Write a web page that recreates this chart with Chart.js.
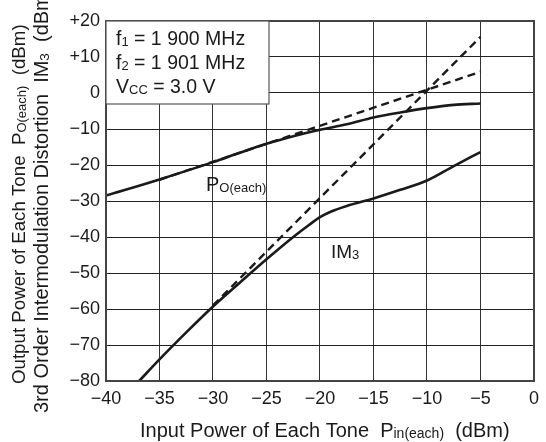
<!DOCTYPE html>
<html>
<head>
<meta charset="utf-8">
<script src="https://cdn.jsdelivr.net/npm/chart.js@4/dist/chart.umd.min.js"></script>
<style>
  html, body { margin: 0; padding: 0; background: #fff; }
  #wrap { width: 546px; height: 442px; }
</style>
</head>
<body>
<div id="wrap"><canvas id="im3-chart"></canvas></div>
<script>
// Pout (each tone) measured curve
const pinPout = [-40, -35, -30, -27.5, -25, -22.5, -20, -17.5, -15, -12.5, -10, -7.5, -5];
const poutVals = [-28.5, -24.0, -19.2, -16.6, -14.1, -12.0, -10.2, -8.7, -6.8, -5.4, -4.2, -3.3, -2.9];
// Pout linear extrapolation (dashed)
const pinPoutExt = [-35, -5];
const poutExtVals = [-24.1, 5.9];
// IM3 measured curve
const pinIm3 = [-36.9, -35, -32.5, -30, -27.5, -25, -22.5, -21, -20, -19, -17.5, -15, -12.5, -10, -7.5, -5];
const im3Vals = [-80, -74, -66.5, -59.3, -52.7, -46.2, -40, -36.6, -34.5, -33.0, -31.4, -29.3, -26.9, -24.3, -20.3, -16.4];
// IM3 extrapolation (dashed)
const pinIm3Ext = [-30, -5];
const im3ExtVals = [-59, 15.6];

const xTickVals = [-40, -35, -30, -25, -20, -15, -10, -5, 0];
const xTickLabels = ['\u221240', '\u221235', '\u221230', '\u221225', '\u221220', '\u221215', '\u221210', '\u22125', '0'];
const yTickVals = [20, 10, 0, -10, -20, -30, -40, -50, -60, -70, -80];
const yTickLabels = ['+20', '+10', '0', '\u221210', '\u221220', '\u221230', '\u221240', '\u221250', '\u221260', '\u221270', '\u221280'];

const FONT = "'Liberation Sans', Arial, sans-serif";
const INK = '#1a1a1a';

function pts(xs, ys) {
  return xs.map((x, i) => ({ x: x, y: ys[i] }));
}

// draw text with small "subscript" pieces, left aligned at x
function richText(ctx, x, y, segs, size, subSize) {
  let cx = x;
  segs.forEach(s => {
    const sub = s[1];
    ctx.font = (sub ? subSize : size) + 'px ' + FONT;
    ctx.fillText(s[0], cx, sub ? y + 1 : y);
    cx += ctx.measureText(s[0]).width;
  });
}

const annotations = {
  id: 'annotations',
  afterDatasetsDraw(chart) {
    const ctx = chart.ctx;
    const a = chart.chartArea;
    ctx.save();
    // plot frame
    ctx.strokeStyle = '#444';
    ctx.lineWidth = 2;
    ctx.strokeRect(a.left, a.top, a.right - a.left, a.bottom - a.top);

    // condition box
    ctx.fillStyle = '#fff';
    ctx.fillRect(a.left, a.top, 163, 83);
    ctx.strokeStyle = '#555';
    ctx.lineWidth = 1.2;
    ctx.strokeRect(a.left, a.top, 163, 83);
    ctx.fillStyle = INK;
    ctx.textBaseline = 'alphabetic';
    ctx.textAlign = 'left';
    richText(ctx, 116, 45, [['f', false], ['1', true], [' = 1 900 MHz', false]], 19.5, 13);
    richText(ctx, 116, 69, [['f', false], ['2', true], [' = 1 901 MHz', false]], 19.5, 13);
    richText(ctx, 116, 93, [['V', false], ['CC', true], [' = 3.0 V', false]], 19.5, 13);

    // curve labels
    richText(ctx, 206, 191, [['P', false], ['O(each)', true]], 20, 13);
    richText(ctx, 331, 258, [['IM', false], ['3', true]], 19, 13);

    // x title
    richText(ctx, 140, 437, [['Input Power of Each Tone  P', false], ['in(each)', true], ['  (dBm)', false]], 20, 14);

    // y title, two rotated lines
    ctx.save();
    ctx.translate(25, 384);
    ctx.rotate(-Math.PI / 2);
    richText(ctx, 0, 0, [['Output Power of Each Tone  P', false], ['O(each)', true], ['  (dBm)', false]], 18.7, 13);
    ctx.restore();
    ctx.save();
    ctx.translate(48, 413);
    ctx.rotate(-Math.PI / 2);
    richText(ctx, 0, 0, [['3rd Order Intermodulation Distortion  IM', false], ['3', true], ['  (dBm)', false]], 20, 13.5);
    ctx.restore();
    ctx.restore();
  }
};

const solid = { borderColor: INK, borderWidth: 2.6, pointRadius: 0, fill: false, cubicInterpolationMode: 'monotone' };
const dashed = { borderColor: INK, borderWidth: 2.4, borderDash: [8, 5], pointRadius: 0, fill: false, tension: 0 };

const ctxIm3 = document.getElementById('im3-chart').getContext('2d');

const im3Chart = new Chart(ctxIm3, {
  type: 'line',
  data: {
    datasets: [
      Object.assign({ label: 'Pout ext', data: pts(pinPoutExt, poutExtVals) }, dashed),
      Object.assign({ label: 'IM3 ext', data: pts(pinIm3Ext, im3ExtVals) }, dashed),
      Object.assign({ label: 'Pout', data: pts(pinPout, poutVals) }, solid),
      Object.assign({ label: 'IM3', data: pts(pinIm3, im3Vals) }, solid)
    ]
  },
  options: {
    responsive: true,
    maintainAspectRatio: false,
    animation: false,
    layout: { padding: { top: 21, right: 6, left: 0, bottom: 0 } },
    scales: {
      x: {
        type: 'linear',
        min: -40,
        max: 0,
        afterFit: s => { s.height = 61; },
        afterBuildTicks: s => { s.ticks = xTickVals.map(v => ({ value: v })); },
        ticks: {
          color: INK,
          font: { family: FONT, size: 18 },
          padding: 7,
          maxRotation: 0,
          callback: v => xTickLabels[xTickVals.indexOf(v)]
        },
        grid: { color: '#333', lineWidth: 1, drawTicks: false },
        border: { display: false }
      },
      y: {
        min: -80,
        max: 20,
        afterFit: s => { s.width = 106; },
        afterBuildTicks: s => { s.ticks = yTickVals.map(v => ({ value: v })); },
        ticks: {
          color: INK,
          font: { family: FONT, size: 18 },
          padding: 6,
          callback: v => yTickLabels[yTickVals.indexOf(v)]
        },
        grid: { color: '#222', lineWidth: 1, drawTicks: false },
        border: { display: false }
      }
    },
    plugins: {
      legend: { display: false },
      tooltip: { enabled: false }
    }
  },
  plugins: [annotations]
});
</script>
</body>
</html>
